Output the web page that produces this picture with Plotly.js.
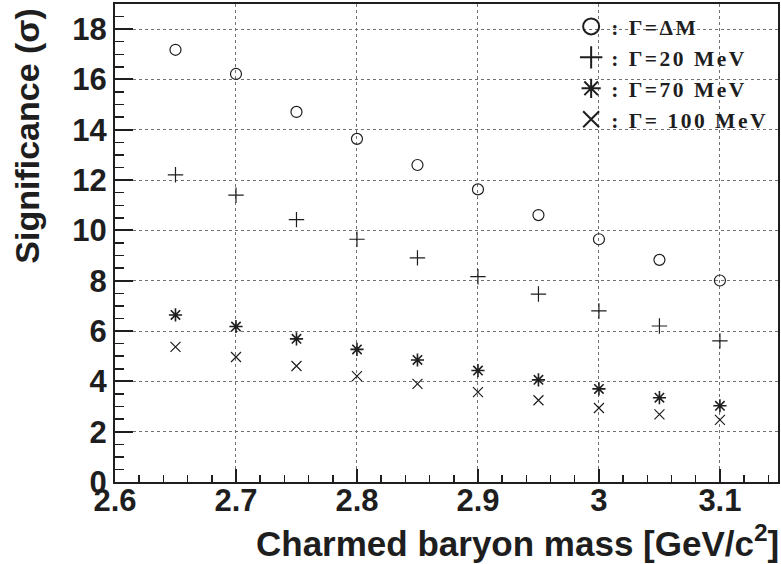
<!DOCTYPE html>
<html>
<head>
<meta charset="utf-8">
<script src="https://cdn.plot.ly/plotly-3.0.1.min.js"></script>
<style>
html,body{margin:0;padding:0;background:#fff;}
#chart{width:781px;height:564px;}
#chart .legendtext{letter-spacing:2.5px;}
#chart .legend, #chart .legend .scrollbox, #chart .legend g{clip-path:none !important;}
</style>
</head>
<body>
<div id="chart"></div>
<script>
// Charmed baryon mass [GeV/c^2]
const mass = [2.65, 2.70, 2.75, 2.80, 2.85, 2.90, 2.95, 3.00, 3.05, 3.10];
// Significance (sigma) for each width hypothesis
const sigDeltaM = [17.18, 16.22, 14.71, 13.64, 12.60, 11.63, 10.61, 9.65, 8.83, 8.01];
const sig20MeV  = [12.21, 11.40, 10.43, 9.65, 8.91, 8.16, 7.47, 6.80, 6.20, 5.61];
const sig70MeV  = [6.64, 6.18, 5.69, 5.27, 4.85, 4.43, 4.06, 3.70, 3.35, 3.03];
const sig100MeV = [5.37, 4.97, 4.61, 4.21, 3.90, 3.57, 3.25, 2.94, 2.69, 2.47];

const seriesNames = [": \u0393=\u0394M", ": \u0393=20 MeV", ": \u0393=70 MeV", ": \u0393= 100 MeV"];
const seriesValues = [sigDeltaM, sig20MeV, sig70MeV, sig100MeV];
const seriesSymbols = ["circle-open", "cross-thin-open", "asterisk-open", "x-thin-open"];
const seriesSizes = [11, 11, 11, 10];

const xTickVals = [2.6, 2.7, 2.8, 2.9, 3.0, 3.1];
const xTickText = ["2.6", "2.7", "2.8", "2.9", "3", "3.1"];
const yTickVals = [0, 2, 4, 6, 8, 10, 12, 14, 16, 18];
const yTickText = ["0", "2", "4", "6", "8", "10", "12", "14", "16", "18"];

const ink = "#1e1e1e";
const traces = [];
seriesValues.forEach((vals, i) => {
  traces.push({
    type: "scatter", mode: "markers", x: mass, y: vals,
    showlegend: false, hoverinfo: "x+y",
    marker: {symbol: seriesSymbols[i], size: seriesSizes[i], color: ink,
             line: {color: ink, width: i === 2 ? 1.6 : 1.2}}
  });
});
// legend entries (larger symbols, like the reference legend)
seriesNames.forEach((name, i) => {
  traces.push({
    type: "scatter", mode: "markers", x: [null], y: [null], name: name,
    showlegend: true, hoverinfo: "skip",
    marker: {symbol: seriesSymbols[i], size: 16, color: ink,
             line: {color: ink, width: 2}}
  });
});

const axisCommon = {
  showline: true, linecolor: ink, linewidth: 2, mirror: true,
  ticks: "inside", tickcolor: ink, tickwidth: 2,
  showgrid: true, gridcolor: "#707070", griddash: "dot", gridwidth: 1,
  zeroline: false, tickmode: "array",
  tickfont: {family: "Liberation Sans, Arial, sans-serif", size: 31, color: ink, weight: "bold"}
};

const layout = {
  width: 781, height: 564,
  margin: {l: 115, r: 3, t: 4, b: 82},
  paper_bgcolor: "#fff", plot_bgcolor: "#fff",
  showlegend: true,
  legend: {
    x: 0.688, y: 0.996, xanchor: "left", yanchor: "top",
    bgcolor: "rgba(0,0,0,0)", borderwidth: 0,
    font: {family: "Liberation Serif, Times New Roman, serif", size: 21.5, color: ink, weight: "bold"},
    itemwidth: 30, traceorder: "normal"
  },
  xaxis: Object.assign({}, axisCommon, {
    range: [2.6, 3.148], tickvals: xTickVals, ticktext: xTickText, ticklen: 13,
    ticklabelstandoff: -10,
    minor: {dtick: 0.02, tick0: 2.6, ticks: "inside", ticklen: 7, tickcolor: ink, tickwidth: 1.5, showgrid: false}
  }),
  yaxis: Object.assign({}, axisCommon, {
    range: [0, 19], tickvals: yTickVals, ticktext: yTickText, ticklen: 18,
    minor: {dtick: 0.5, tick0: 0, ticks: "inside", ticklen: 9, tickcolor: ink, tickwidth: 1.5, showgrid: false}
  }),
  annotations: [
    {text: "Charmed baryon mass [GeV/c<sup>2</sup>]", xref: "paper", yref: "paper",
     x: 1.004, xanchor: "right", y: -0.123, yanchor: "middle", showarrow: false,
     font: {family: "Liberation Sans, Arial, sans-serif", size: 35, color: ink, weight: "bold"}},
    {text: "Significance (\u03c3)", xref: "paper", yref: "paper", textangle: -90,
     x: -0.133, xanchor: "center", y: 0.996, yanchor: "top", showarrow: false,
     font: {family: "Liberation Sans, Arial, sans-serif", size: 34, color: ink, weight: "bold"}}
  ]
};

Plotly.newPlot("chart", traces, layout, {displayModeBar: false, staticPlot: true});
</script>
</body>
</html>
